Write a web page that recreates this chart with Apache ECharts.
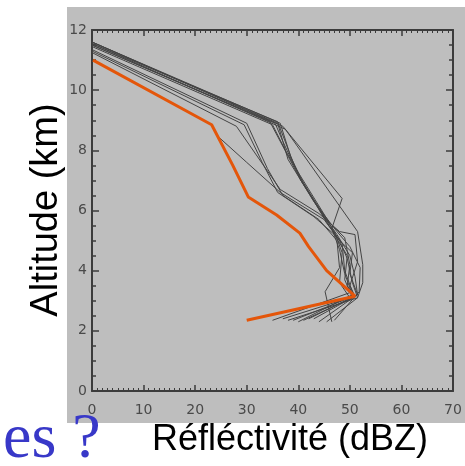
<!DOCTYPE html>
<html>
<head>
<meta charset="utf-8">
<script src="https://cdn.jsdelivr.net/npm/echarts@6/dist/echarts.min.js"></script>
<style>
  html, body { margin: 0; padding: 0; background: #fff; }
  #main { width: 465px; height: 466px; }
</style>
</head>
<body>
<div id="main"></div>
<script>
var chart = echarts.init(document.getElementById('main'));

// profil moyen (orange)
var meanProfile = [[0.2, 11.0], [23.2, 8.85], [27.3, 7.5], [30.3, 6.45], [35.8, 5.85],
    [40.3, 5.25], [42, 4.8], [45.5, 4.0], [51, 3.15], [30, 2.35]];

// profils individuels (gris)
var p1 = [[0, 11.6], [36.5, 8.9], [38.5, 7.8], [41, 6.9], [45.5, 5.6], [48, 5.0], [49.5, 4.4], [50.5, 3.6], [51.5, 3.1], [38, 2.35]];
var p2 = [[0, 11.55], [36, 8.95], [39, 7.6], [40.5, 7.0], [46, 5.5], [48.5, 4.9], [49, 4.0], [50.5, 3.3], [35, 2.35]];
var p3 = [[0, 11.5], [35.5, 8.9], [37, 8.3], [40, 7.2], [45, 5.8], [47.5, 5.2], [50, 4.5], [51, 3.8], [51.5, 3.2], [42, 2.4]];
var p4 = [[0, 11.45], [35, 8.85], [37.5, 8.0], [39.5, 7.4], [46, 5.6], [49, 5.1], [50, 4.2], [49.5, 3.5], [51, 3.15], [44, 2.3]];
var p5 = [[0, 11.6], [37, 8.8], [48.5, 6.4], [46.5, 5.4], [48, 4.7], [49, 3.9], [50.5, 3.2], [40, 2.3]];
var p6 = [[0, 11.55], [37.5, 8.7], [51.5, 5.3], [52.5, 4.2], [52.5, 3.6], [51.5, 3.1], [45.5, 2.3]];
var p7 = [[0, 11.3], [29.5, 8.85], [33, 7.6], [36, 6.6], [43, 5.8], [47, 5.2], [49.5, 4.5], [49, 3.7], [50.5, 3.1], [41, 2.35]];
var p8 = [[0, 11.35], [30, 8.9], [34, 7.4], [37, 6.5], [44, 5.7], [47.5, 5.0], [48, 4.1], [45.2, 3.3], [46.5, 2.3]];
var p9 = [[0, 11.25], [28, 8.8], [36.5, 6.7], [44, 5.9], [48, 5.3], [51, 5.2], [51.5, 4.3], [50, 3.5], [51, 3.15], [43, 2.4]];
var p10 = [[0.2, 11.0], [23.2, 8.85], [24.5, 8.45], [30, 7.6], [36.5, 6.6], [45, 5.7], [48, 5.0], [50.5, 4.6], [50, 3.9], [51.5, 3.2], [39, 2.35]];
var p11 = [[0, 11.5], [34.5, 8.95], [40.5, 7.0], [44, 6.1], [47, 5.3], [48.5, 4.6], [48, 3.6], [50, 3.1], [37, 2.4]];
var p12 = [[0, 11.6], [36, 8.9], [38, 7.7], [43, 6.3], [47.5, 5.3], [50, 4.8], [52, 4.1], [51.8, 3.3], [47, 2.35]];
var profiles = [p1, p2, p3, p4, p5, p6, p7, p8, p9, p10, p11, p12];

var frameColor = '#3c3c3c';
var labelColor = '#4a4a4a';

function makeX(pos, showLabel) {
    return {
        type: 'value', position: pos, min: 0, max: 70, interval: 10,
        axisLine: { show: true, onZero: false, lineStyle: { color: frameColor, width: 2 } },
        axisTick: { show: true, inside: true, length: 6, lineStyle: { color: frameColor, width: 1.5 } },
        minorTick: { show: true, splitNumber: 10, length: 3, lineStyle: { color: frameColor, width: 1 } },
        splitLine: { show: false },
        axisLabel: {
            show: showLabel, color: labelColor, fontSize: 14, fontFamily: 'DejaVu Sans',
            margin: 12, showMinLabel: true, showMaxLabel: true
        }
    };
}

function makeY(pos, showLabel) {
    return {
        type: 'value', position: pos, min: 0, max: 12, interval: 2,
        axisLine: { show: true, onZero: false, lineStyle: { color: frameColor, width: 2 } },
        axisTick: { show: true, inside: true, length: 7, lineStyle: { color: frameColor, width: 1.5 } },
        minorTick: { show: true, splitNumber: 4, length: 4, lineStyle: { color: frameColor, width: 1.5 } },
        splitLine: { show: false },
        axisLabel: {
            show: showLabel, color: labelColor, fontSize: 14, fontFamily: 'DejaVu Sans',
            margin: 5, showMinLabel: true, showMaxLabel: true
        }
    };
}

var series = profiles.map(function (p) {
    return {
        type: 'line', data: p, showSymbol: false, silent: true,
        lineStyle: { color: '#444444', width: 1 }, z: 2
    };
});
series.push({
    type: 'line', data: meanProfile, showSymbol: false, silent: true,
    lineStyle: { color: '#e4560a', width: 3 }, z: 3
});

chart.setOption({
    backgroundColor: '#ffffff',
    animation: false,
    grid: { left: 92, top: 30, width: 361, height: 361, outerBoundsMode: 'none' },
    xAxis: [makeX('bottom', true), makeX('top', false)],
    yAxis: [makeY('left', true), makeY('right', false)],
    graphic: [
        {
            type: 'rect', z: -10, silent: true,
            shape: { x: 67, y: 7, width: 398, height: 416 },
            style: { fill: '#bebebe' }
        },
        {
            type: 'text', x: 47, y: 210, rotation: Math.PI / 2, z: 10,
            style: {
                text: 'Altitude (km)', fill: '#000', fontSize: 38,
                fontFamily: 'Liberation Sans', align: 'center', verticalAlign: 'middle'
            }
        },
        {
            type: 'text', x: 290, y: 440, z: 10,
            style: {
                text: 'Réfléctivité (dBZ)', fill: '#000', fontSize: 36,
                fontFamily: 'Liberation Sans', align: 'center', verticalAlign: 'middle'
            }
        },
        {
            type: 'text', x: 3, y: 440, z: 10,
            style: {
                text: 'es ?', fill: '#3838c8', fontSize: 64,
                fontFamily: 'Liberation Serif', align: 'left', verticalAlign: 'middle'
            }
        }
    ],
    series: series
});
</script>
</body>
</html>
